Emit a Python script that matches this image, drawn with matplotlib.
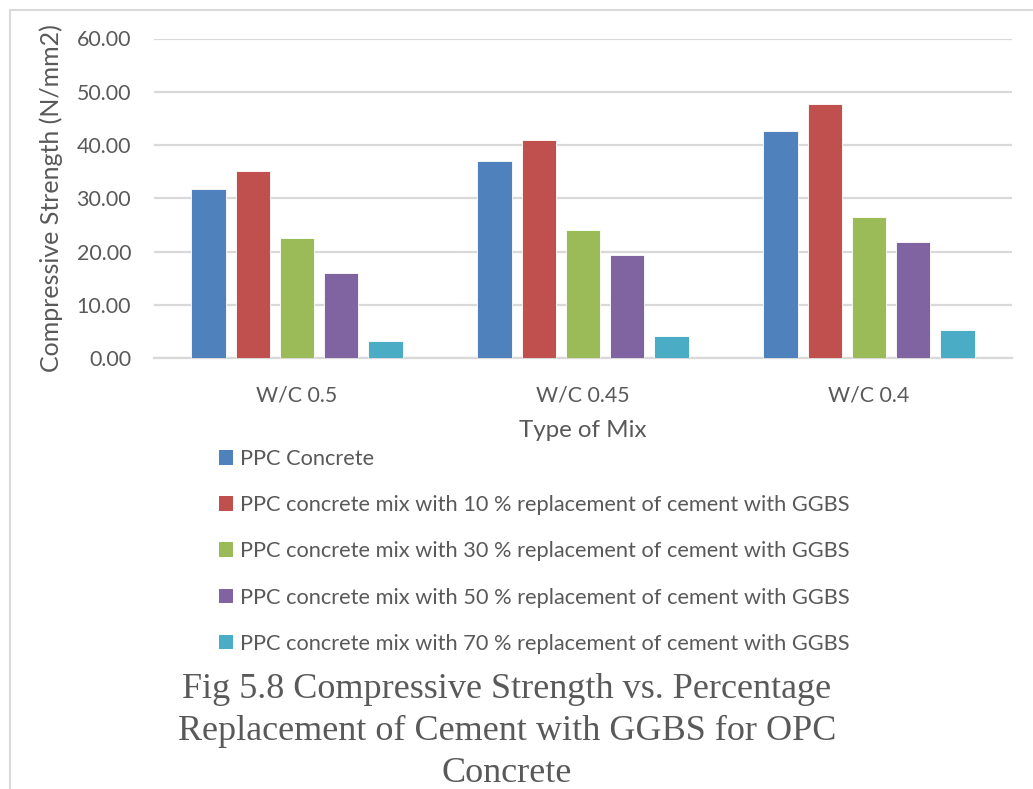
import matplotlib
matplotlib.use("Agg")
import matplotlib.pyplot as plt
import numpy as np
from matplotlib.lines import Line2D
from matplotlib.patches import Patch

# Compressive strength (N/mm2) for each mix type
mixes = ["W/C 0.5", "W/C 0.45", "W/C 0.4"]
series_names = [
    "PPC Concrete",
    "PPC concrete mix with 10 % replacement of cement with GGBS",
    "PPC concrete mix with 30 % replacement of cement with GGBS",
    "PPC concrete mix with 50 % replacement of cement with GGBS",
    "PPC concrete mix with 70 % replacement of cement with GGBS",
]
ppc = [31.8, 37.0, 42.6]
ggbs_10 = [35.1, 41.0, 47.7]
ggbs_30 = [22.6, 24.0, 26.5]
ggbs_50 = [16.0, 19.3, 21.8]
ggbs_70 = [3.2, 4.1, 5.2]
y_ticks = [0, 10, 20, 30, 40, 50, 60]

colors = ["#4F81BD", "#C0504D", "#9BBB59", "#8064A2", "#4BACC6"]
text_color = "#595959"
grid_color = "#D9D9D9"

plt.rcParams["font.family"] = ["Lato", "DejaVu Sans"]

fig = plt.figure(figsize=(10.33, 7.89), dpi=100)
ax = fig.add_axes([154 / 1033, 1 - 358 / 789, (1012 - 154) / 1033, (358 - 38.5) / 789])

x = np.arange(len(mixes))
pitch = 0.154
width = 0.122
all_series = [ppc, ggbs_10, ggbs_30, ggbs_50, ggbs_70]
handles = []
for i, (vals, col, name) in enumerate(zip(all_series, colors, series_names)):
    ax.bar(x + (i - 2) * pitch, vals, width, color=col, edgecolor="white",
           linewidth=0.6, zorder=3)
    handles.append(Patch(facecolor=col, edgecolor="none", label=name))

ax.set_xlim(-0.5, 2.5)
ax.set_ylim(0, 60)
ax.set_yticks(y_ticks)
ax.set_yticklabels([f"{v:.2f}" for v in y_ticks])
ax.set_xticks(x)
ax.set_xticklabels(mixes)
ax.yaxis.grid(True, color=grid_color, linewidth=1.6, zorder=0)
ax.set_axisbelow(True)
for side in ["left", "right", "top"]:
    ax.spines[side].set_visible(False)
ax.spines["bottom"].set_color(grid_color)
ax.spines["bottom"].set_linewidth(1.6)
ax.tick_params(axis="both", length=0, labelsize=15.4, colors=text_color)
ax.tick_params(axis="y", pad=16.5)
ax.tick_params(axis="x", pad=20)

ax.set_ylabel("Compressive Strength (N/mm2)", fontsize=18, color=text_color, labelpad=10)
ax.set_xlabel("Type of Mix", fontsize=17.4, color=text_color, labelpad=10)

fig.legend(handles=handles, loc="upper left", bbox_to_anchor=(219 / 1033, 1 - 449 / 789),
           frameon=False, fontsize=15.7, labelcolor=text_color,
           handlelength=0.65, handleheight=0.65, handletextpad=0.3,
           labelspacing=1.2, borderpad=0, borderaxespad=0)

caption = ["Fig 5.8 Compressive Strength vs. Percentage",
           "Replacement of Cement with GGBS for OPC",
           "Concrete"]
for k, line in enumerate(caption):
    fig.text(507 / 1033, 1 - (689 + 42 * k) / 789, line, ha="center", va="center",
             fontsize=26, family="Liberation Serif", color=text_color)

# light frame around the chart area
fig.add_artist(Line2D([10 / 1033, 1.0], [1 - 10 / 789] * 2, color=grid_color,
                      linewidth=1.5, transform=fig.transFigure))
fig.add_artist(Line2D([10 / 1033] * 2, [0.0, 1 - 10 / 789], color=grid_color,
                      linewidth=1.5, transform=fig.transFigure))

fig.savefig("out.png", dpi=100, facecolor="white")
